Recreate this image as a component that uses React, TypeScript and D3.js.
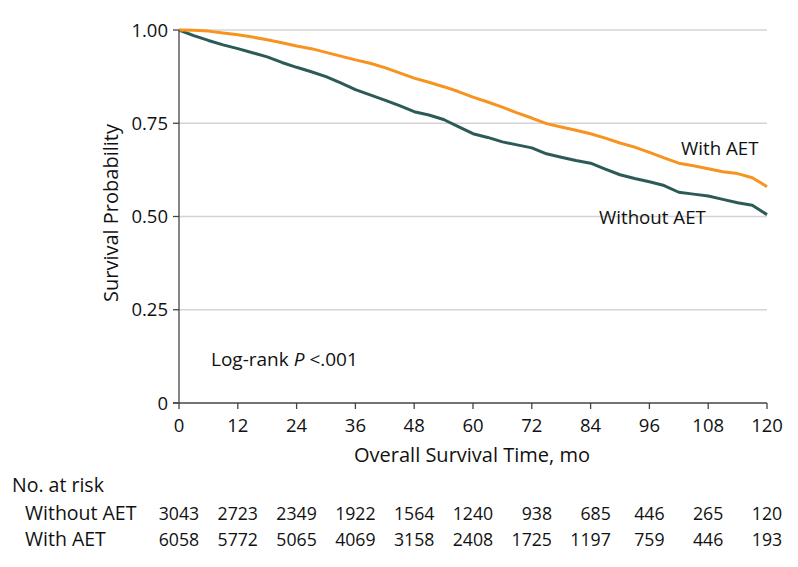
import React from "react";
import * as d3 from "d3";

const months = [
  0, 3, 6, 9, 12, 15, 18, 21, 24, 27, 30, 33, 36, 39, 42, 45, 48, 51, 54, 57,
  60, 63, 66, 69, 72, 75, 78, 81, 84, 87, 90, 93, 96, 99, 102, 105, 108, 111,
  114, 117, 120,
];

const withAET = [
  1.0, 0.999, 0.997, 0.992, 0.987, 0.981, 0.974, 0.966, 0.957, 0.95, 0.94,
  0.93, 0.92, 0.911, 0.899, 0.885, 0.871, 0.86, 0.848, 0.835, 0.82, 0.807,
  0.793, 0.778, 0.764, 0.749, 0.74, 0.731, 0.722, 0.71, 0.697, 0.686, 0.672,
  0.657, 0.643, 0.636, 0.628, 0.62, 0.615, 0.604, 0.58,
];

const withoutAET = [
  1.0, 0.985, 0.972, 0.96, 0.95, 0.939, 0.928, 0.913, 0.9, 0.888, 0.875,
  0.858, 0.84, 0.826, 0.812, 0.797, 0.781, 0.772, 0.76, 0.741, 0.722, 0.712,
  0.7, 0.692, 0.684, 0.668, 0.659, 0.65, 0.643, 0.627, 0.612, 0.602, 0.593,
  0.583, 0.565, 0.56, 0.555, 0.546, 0.537, 0.53, 0.505,
];

const xTicks = [0, 12, 24, 36, 48, 60, 72, 84, 96, 108, 120];
const yTicks = [0, 0.25, 0.5, 0.75, 1];
const yTickLabels = ["0", "0.25", "0.50", "0.75", "1.00"];

const riskWithout = [3043, 2723, 2349, 1922, 1564, 1240, 938, 685, 446, 265, 120];
const riskWith = [6058, 5772, 5065, 4069, 3158, 2408, 1725, 1197, 759, 446, 193];

const ORANGE = "#f7931e";
const TEAL = "#2c5b57";
const FONT = "'Open Sans', sans-serif";

const App = () => {
  const x = d3.scaleLinear().domain([0, 120]).range([179, 767]);
  const y = d3.scaleLinear().domain([0, 1]).range([403, 30]);

  const line = d3
    .line<number>()
    .x((d, i) => x(months[i]))
    .y((d) => y(d))
    .curve(d3.curveLinear);

  // columns of the risk table: right aligned, widest entry centred on the tick
  const digitW = 10.1;
  const colRight = xTicks.map((t, i) => {
    const w = Math.max(String(riskWith[i]).length, String(riskWithout[i]).length);
    return x(t) + (w * digitW) / 2;
  });

  return (
    <svg
      width={798}
      height={567}
      style={{ position: "absolute", left: 0, top: 0, background: "#fff" }}
      fontFamily={FONT}
      fill="#111"
    >
      {/* grid */}
      {yTicks.slice(1).map((t) => (
        <line key={t} x1={x(0)} x2={x(120)} y1={y(t)} y2={y(t)} stroke="#d4d4d4" strokeWidth={1.5} />
      ))}

      {/* curves */}
      <path d={line(withoutAET) || ""} fill="none" stroke={TEAL} strokeWidth={3} strokeLinejoin="round" />
      <path d={line(withAET) || ""} fill="none" stroke={ORANGE} strokeWidth={3} strokeLinejoin="round" />

      {/* y axis */}
      <line x1={x(0)} x2={x(0)} y1={y(1)} y2={y(0)} stroke="#444" strokeWidth={1.3} />
      {yTicks.map((t, i) => (
        <g key={t}>
          <line x1={x(0) - 6} x2={x(0)} y1={y(t)} y2={y(t)} stroke="#444" strokeWidth={1.3} />
          <text x={x(0) - 11} y={y(t)} dy="0.36em" textAnchor="end" fontSize={18.5}>
            {yTickLabels[i]}
          </text>
        </g>
      ))}
      <text transform="translate(118,213) rotate(-90)" textAnchor="middle" fontSize={20}>
        Survival Probability
      </text>

      {/* x axis */}
      <line x1={x(0) - 6} x2={x(120)} y1={y(0)} y2={y(0)} stroke="#444" strokeWidth={1.3} />
      {xTicks.map((t) => (
        <g key={t}>
          <line x1={x(t)} x2={x(t)} y1={y(0)} y2={y(0) + 6} stroke="#444" strokeWidth={1.3} />
          <text x={x(t)} y={432} textAnchor="middle" fontSize={18.5}>
            {t}
          </text>
        </g>
      ))}
      <text x={472} y={462} textAnchor="middle" fontSize={20}>
        Overall Survival Time, mo
      </text>

      {/* labels */}
      <text x={681} y={155} fontSize={18.7}>With AET</text>
      <text x={599} y={224} fontSize={18.7}>Without AET</text>
      <text x={211} y={366} fontSize={19}>
        Log-rank <tspan fontStyle="italic">P</tspan> {"<"}.001
      </text>

      {/* number at risk */}
      <text x={12} y={492} fontSize={19.5}>No. at risk</text>
      <text x={25} y={520} fontSize={19.5}>Without AET</text>
      <text x={25} y={546} fontSize={19.5}>With AET</text>
      {xTicks.map((t, i) => (
        <g key={"r" + t} fontSize={17.7} textAnchor="end">
          <text x={colRight[i]} y={520}>{riskWithout[i]}</text>
          <text x={colRight[i]} y={546}>{riskWith[i]}</text>
        </g>
      ))}
    </svg>
  );
};

export default App;
